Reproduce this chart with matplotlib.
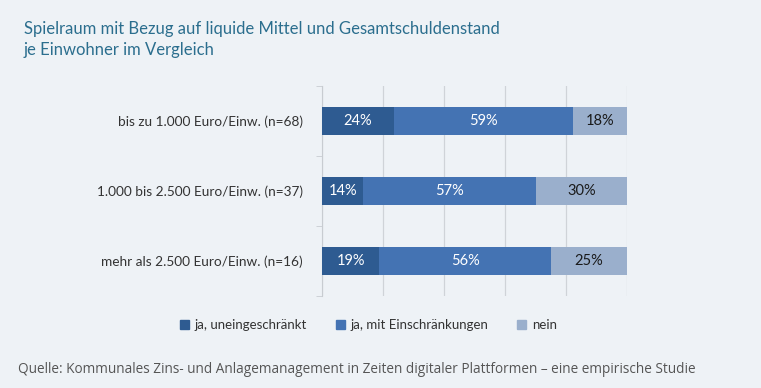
import matplotlib
matplotlib.use("Agg")
import matplotlib.pyplot as plt
from matplotlib.patches import Patch

# data (shares in %)
categories = ["bis zu 1.000 Euro/Einw. (n=68)",
              "1.000 bis 2.500 Euro/Einw. (n=37)",
              "mehr als 2.500 Euro/Einw. (n=16)"]
series_names = ["ja, uneingeschränkt", "ja, mit Einschränkungen", "nein"]
uneingeschraenkt = [23.5, 13.5, 18.8]
mit_einschraenkungen = [58.8, 56.8, 56.2]
nein = [17.6, 29.7, 25.0]
labels_uneingeschraenkt = ["24%", "14%", "19%"]
labels_mit = ["59%", "57%", "56%"]
labels_nein = ["18%", "30%", "25%"]

bg = "#eef2f6"
colors = ["#2e5b91", "#4473b3", "#9aafcc"]
text_colors = ["white", "white", "#1a1a1a"]

plt.rcParams["font.family"] = ["Lato", "DejaVu Sans"]

fig = plt.figure(figsize=(7.61, 3.88), dpi=100, facecolor=bg)
ax = fig.add_axes([0.4231, 0.2371, 0.4008, 0.5412])
ax.set_facecolor(bg)

y = [0, 1, 2]
left = [0, 0, 0]
for vals, labs, col, tc in zip([uneingeschraenkt, mit_einschraenkungen, nein],
                               [labels_uneingeschraenkt, labels_mit, labels_nein],
                               colors, text_colors):
    ax.barh(y, vals, left=left, height=0.39, color=col, zorder=3)
    for yi, l, v, lab in zip(y, left, vals, labs):
        ax.text(l + v / 2, yi, lab, ha="center", va="center",
                color=tc, fontsize=10.5, zorder=4)
    left = [a + b for a, b in zip(left, vals)]

ax.set_xlim(0, 100)
ax.set_ylim(2.5, -0.5)
ax.set_xticks([0, 20, 40, 60, 80, 100])
ax.xaxis.grid(True, color="#cfd3d8", linewidth=0.9, zorder=0)
ax.tick_params(axis="x", length=0, labelbottom=False)
ax.set_yticks(y)
ax.set_yticklabels(categories, fontsize=9.8, color="#333333")
ax.tick_params(axis="y", length=0, pad=14)
ax.set_yticks([-0.5, 0.5, 1.5, 2.5], minor=True)
ax.tick_params(axis="y", which="minor", length=4, color="#c8ccd1")
for s in ["top", "right", "bottom"]:
    ax.spines[s].set_visible(False)
ax.spines["left"].set_color("#c8ccd1")

fig.text(0.031, 0.945, "Spielraum mit Bezug auf liquide Mittel und Gesamtschuldenstand\nje Einwohner im Vergleich",
         ha="left", va="top", fontsize=12, color="#2b6e8e", linespacing=1.35)

handles = [Patch(color=c, label=n) for c, n in zip(colors, series_names)]
fig.legend(handles=handles, loc="center", bbox_to_anchor=(0.484, 0.162), ncol=3,
           frameon=False, fontsize=9.5, handlelength=0.7, handleheight=0.7,
           handletextpad=0.4, columnspacing=2.2, labelcolor="#333333")

fig.text(0.024, 0.028, "Quelle: Kommunales Zins- und Anlagemanagement in Zeiten digitaler Plattformen \u2013 eine empirische Studie",
         ha="left", va="bottom", fontsize=9.8, color="#555555", family=["Open Sans", "DejaVu Sans"])

fig.savefig("out.png", dpi=100, facecolor=bg)
